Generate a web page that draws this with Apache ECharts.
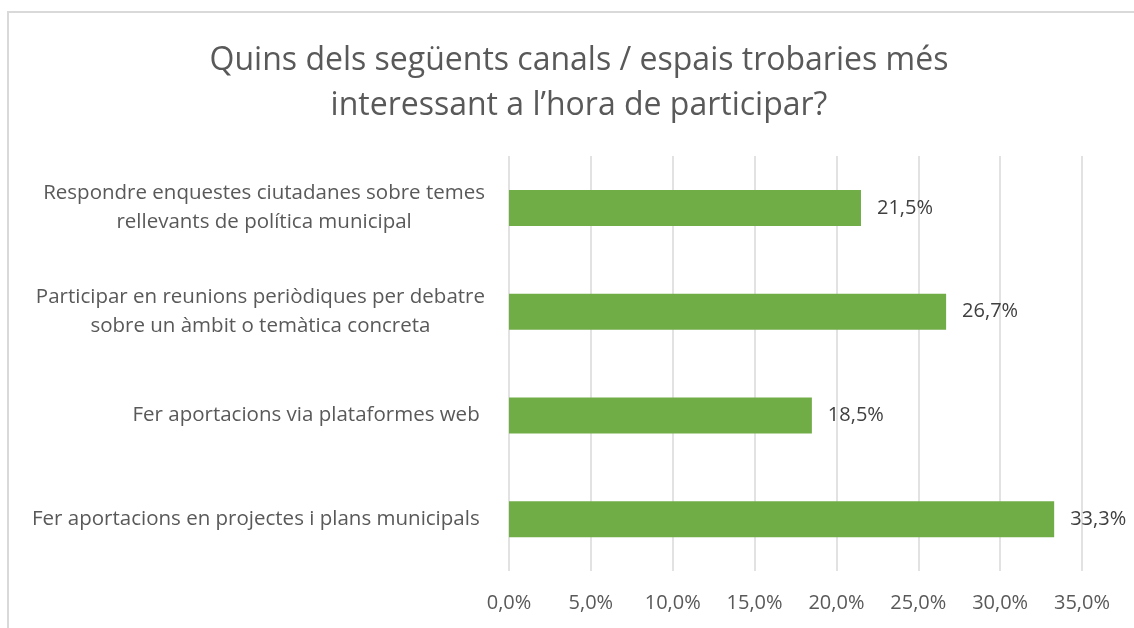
<!DOCTYPE html>
<html>
<head>
<meta charset="utf-8">
<script src="https://cdn.jsdelivr.net/npm/echarts@6/dist/echarts.min.js"></script>
<style>
  html, body { margin: 0; padding: 0; background: #fff; }
  #frame { position: absolute; left: 7px; top: 11px; width: 1200px; height: 700px; border: 2px solid #d9d9d9; box-sizing: border-box; }
  #chart { position: absolute; left: 0; top: 0; width: 1134px; height: 628px; }
</style>
</head>
<body>
<div id="frame"></div>
<div id="chart"></div>
<script>
const titleText = "Quins dels següents canals / espais trobaries més\ninteressant a l’hora de participar?";
const categories = [
  "Respondre enquestes ciutadanes sobre temes\nrellevants de política municipal",
  "Participar en reunions periòdiques per debatre\nsobre un àmbit o temàtica concreta",
  "Fer aportacions via plataformes web ",
  "Fer aportacions en projectes i plans municipals "
];
const values = [21.5, 26.7, 18.5, 33.3];
const axisMin = 0;
const axisMax = 35;
const axisStep = 5;

const fmt = (v, d) => v.toFixed(d).replace(".", ",") + "%";

const chart = echarts.init(document.getElementById("chart"), null, { renderer: "canvas" });
chart.setOption({
  animation: false,
  backgroundColor: "transparent",
  textStyle: { fontFamily: "Open Sans" },
  title: {
    text: titleText,
    left: 574,
    top: 33,
    textAlign: "center",
    textStyle: { fontSize: 32, fontWeight: "normal", color: "#595959", lineHeight: 45, fontFamily: "Open Sans" }
  },
  grid: { left: 509, right: 52, top: 156, bottom: 57 },
  xAxis: {
    type: "value",
    min: axisMin,
    max: axisMax,
    interval: axisStep,
    axisLine: { show: false },
    axisTick: { show: false },
    splitLine: { lineStyle: { color: "#d9d9d9", width: 1.5 } },
    axisLabel: { color: "#595959", fontSize: 20, margin: 22, formatter: (v) => fmt(v, 1) }
  },
  yAxis: {
    type: "category",
    inverse: true,
    data: categories,
    axisLine: { show: false },
    axisTick: { show: false },
    axisLabel: {
      color: "#595959",
      fontSize: 20.5,
      lineHeight: 29,
      margin: 24,
      align: "right",
      // lines centred inside the label block, block pinned to the right
      formatter: (v) => v.split("\n").map((l) => "{c|" + l + "}").join("\n"),
      rich: { c: { align: "center", color: "#595959", fontSize: 20.5, lineHeight: 29, fontFamily: "Open Sans" } }
    }
  },
  series: [{
    type: "bar",
    data: values,
    barWidth: 36,
    itemStyle: { color: "#70ad47" },
    label: {
      show: true,
      position: "right",
      distance: 16,
      color: "#404040",
      fontSize: 20,
      formatter: (p) => fmt(p.value, 1)
    }
  }]
});
</script>
</body>
</html>
